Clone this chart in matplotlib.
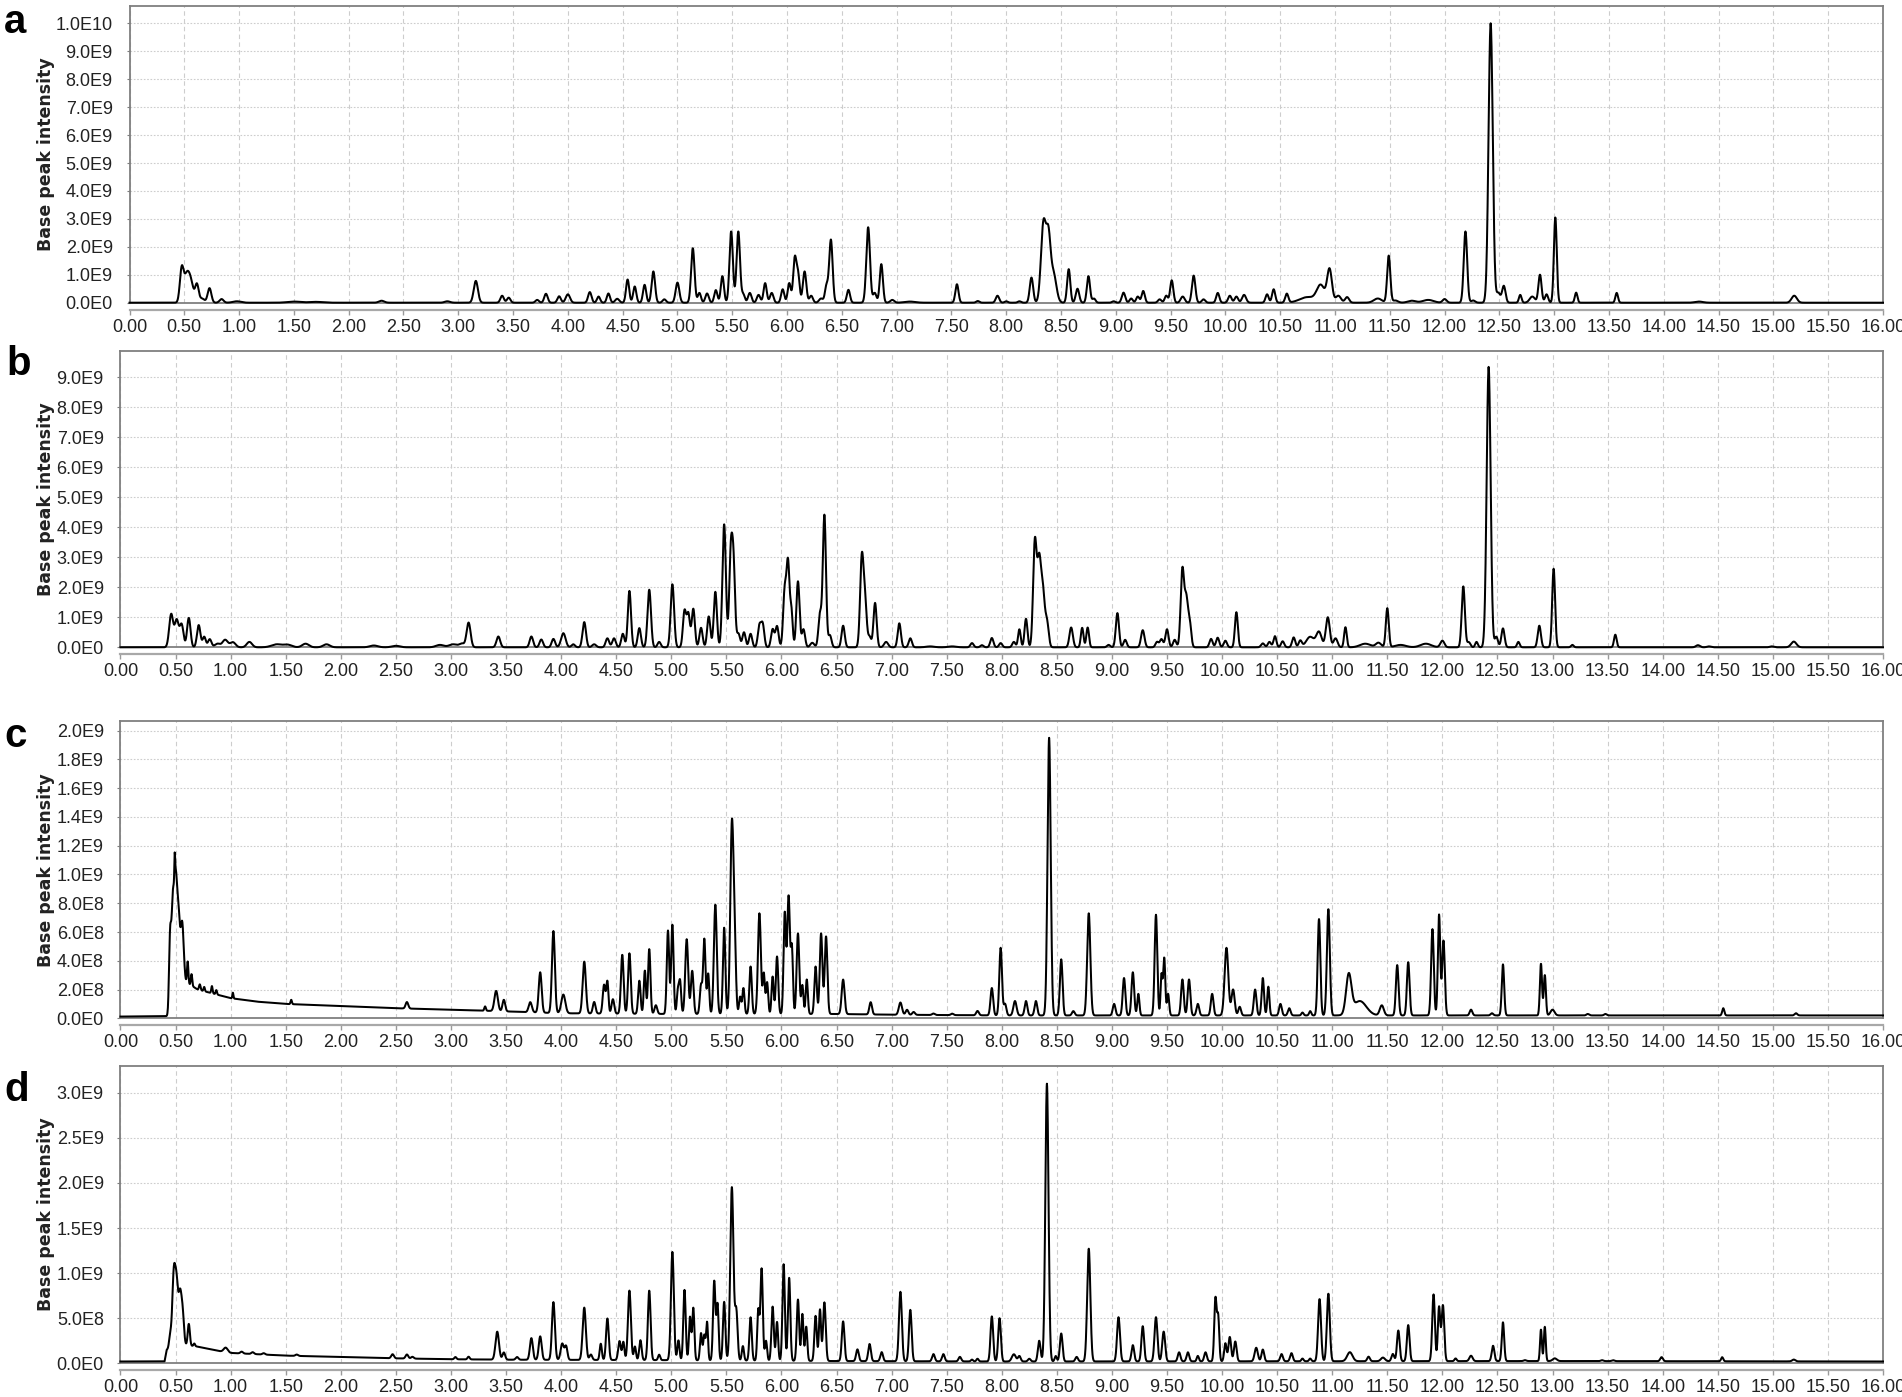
import numpy as np
import matplotlib
matplotlib.use("Agg")
import matplotlib.pyplot as plt
from matplotlib import font_manager
from matplotlib.ticker import FuncFormatter

# ---------------- data (intensities in units of 1e9) ----------------
UNIT = 1e9
RT_GRID = np.linspace(0.0, 16.0, 8001)
SIGMA_SCALE = 1.2
x_ticks = [i * 0.5 for i in range(33)]

# panel a
a_rt = [0.476, 0.52, 0.56, 0.615, 0.66, 0.73, 0.84, 0.98, 1.5, 1.7,
        2.30, 2.9, 3.16, 3.40, 3.46, 3.72, 3.80, 3.92, 4.00, 4.20,
        4.28, 4.37, 4.45, 4.545, 4.61, 4.70, 4.78, 4.88, 5.00, 5.14,
        5.20, 5.27, 5.35, 5.41, 5.49, 5.555, 5.60, 5.66, 5.74, 5.80,
        5.86, 5.96, 6.02, 6.07, 6.10, 6.16, 6.22, 6.31, 6.36, 6.40,
        6.56, 6.74, 6.80, 6.86, 6.96, 7.12, 7.55, 7.74, 7.92, 8.00,
        8.12, 8.23, 8.34, 8.385, 8.43, 8.57, 8.65, 8.75, 8.80, 8.98,
        9.07, 9.14, 9.20, 9.25, 9.40, 9.46, 9.51, 9.61, 9.71, 9.80,
        9.93, 10.04, 10.10, 10.17, 10.38, 10.44, 10.56, 10.75, 10.87, 10.95,
        11.03, 11.11, 11.39, 11.49, 11.55, 11.70, 11.85, 12.00, 12.19, 12.26,
        12.42, 12.49, 12.54, 12.69, 12.80, 12.87, 12.93, 13.01, 13.20, 13.57,
        14.32, 15.19]
a_h = [1.15, 0.9, 0.68, 0.62, 0.15, 0.52, 0.13, 0.05, 0.04, 0.03,
       0.07, 0.05, 0.78, 0.25, 0.18, 0.1, 0.32, 0.23, 0.3, 0.38,
       0.22, 0.33, 0.14, 0.83, 0.58, 0.64, 1.12, 0.12, 0.72, 1.95,
       0.35, 0.33, 0.45, 0.95, 2.55, 2.55, 0.3, 0.35, 0.28, 0.7,
       0.35, 0.48, 0.7, 1.55, 1.0, 1.12, 0.25, 0.15, 0.6, 2.25,
       0.46, 2.7, 0.35, 1.38, 0.1, 0.04, 0.66, 0.06, 0.25, 0.05,
       0.05, 0.9, 2.85, 2.1, 1.05, 1.2, 0.5, 0.95, 0.15, 0.05,
       0.36, 0.15, 0.22, 0.42, 0.12, 0.25, 0.8, 0.22, 0.97, 0.12,
       0.35, 0.25, 0.22, 0.28, 0.3, 0.48, 0.32, 0.2, 0.6, 1.18,
       0.25, 0.2, 0.15, 1.68, 0.08, 0.07, 0.1, 0.13, 2.55, 0.08,
       10.0, 0.35, 0.6, 0.28, 0.22, 1.0, 0.3, 3.05, 0.36, 0.35,
       0.04, 0.25]
a_sigma = [0.014, 0.02, 0.02, 0.013, 0.02, 0.014, 0.015, 0.03, 0.05, 0.05,
           0.02, 0.02, 0.016, 0.013, 0.013, 0.013, 0.013, 0.013, 0.016, 0.013,
           0.012, 0.012, 0.015, 0.012, 0.012, 0.012, 0.013, 0.013, 0.014, 0.013,
           0.012, 0.013, 0.012, 0.012, 0.013, 0.013, 0.012, 0.013, 0.013, 0.012,
           0.013, 0.012, 0.012, 0.012, 0.012, 0.013, 0.013, 0.015, 0.012, 0.013,
           0.012, 0.014, 0.013, 0.012, 0.015, 0.04, 0.012, 0.012, 0.013, 0.012,
           0.012, 0.013, 0.019, 0.016, 0.022, 0.012, 0.013, 0.012, 0.012, 0.012,
           0.013, 0.012, 0.012, 0.012, 0.013, 0.012, 0.012, 0.015, 0.013, 0.013,
           0.012, 0.013, 0.013, 0.015, 0.012, 0.012, 0.012, 0.06, 0.03, 0.018,
           0.02, 0.015, 0.03, 0.012, 0.02, 0.03, 0.04, 0.015, 0.013, 0.015,
           0.016, 0.015, 0.013, 0.01, 0.02, 0.012, 0.012, 0.011, 0.01, 0.01,
           0.03, 0.02]

# panel b
b_rt = [0.46, 0.51, 0.555, 0.62, 0.71, 0.76, 0.81, 0.88, 0.95, 1.02,
        1.17, 1.42, 1.52, 1.68, 1.87, 2.30, 2.50, 2.90, 3.02, 3.10,
        3.16, 3.43, 3.73, 3.82, 3.93, 4.02, 4.11, 4.21, 4.30, 4.42,
        4.48, 4.56, 4.62, 4.71, 4.80, 4.89, 5.01, 5.12, 5.155, 5.20,
        5.27, 5.34, 5.40, 5.48, 5.54, 5.565, 5.61, 5.66, 5.72, 5.80,
        5.83, 5.92, 5.96, 6.03, 6.06, 6.09, 6.15, 6.20, 6.28, 6.35,
        6.39, 6.44, 6.56, 6.73, 6.76, 6.80, 6.85, 6.95, 7.07, 7.17,
        7.35, 7.55, 7.73, 7.82, 7.91, 7.99, 8.11, 8.16, 8.22, 8.30,
        8.34, 8.375, 8.41, 8.63, 8.73, 8.78, 8.97, 9.05, 9.12, 9.28,
        9.41, 9.45, 9.50, 9.57, 9.64, 9.675, 9.705, 9.90, 9.96, 10.03,
        10.13, 10.37, 10.43, 10.48, 10.55, 10.65, 10.71, 10.80, 10.88, 10.96,
        11.03, 11.12, 11.30, 11.42, 11.50, 11.62, 11.85, 12.00, 12.19, 12.24,
        12.31, 12.42, 12.49, 12.55, 12.69, 12.88, 13.01, 13.18, 13.57, 14.32,
        14.42, 14.99, 15.19]
b_h = [1.1, 0.9, 0.75, 0.98, 0.74, 0.35, 0.27, 0.12, 0.25, 0.17,
       0.18, 0.1, 0.08, 0.12, 0.1, 0.06, 0.05, 0.08, 0.1, 0.12,
       0.82, 0.36, 0.36, 0.26, 0.28, 0.47, 0.1, 0.84, 0.1, 0.3,
       0.3, 0.45, 1.88, 0.64, 1.92, 0.18, 2.1, 1.2, 1.1, 1.28,
       0.65, 1.03, 1.85, 4.1, 2.95, 2.6, 0.45, 0.5, 0.45, 0.7,
       0.75, 0.6, 0.7, 1.9, 2.7, 1.2, 2.2, 0.6, 0.15, 1.1,
       4.4, 0.4, 0.72, 3.0, 1.4, 0.35, 1.48, 0.18, 0.8, 0.3,
       0.03, 0.03, 0.14, 0.07, 0.31, 0.14, 0.18, 0.6, 0.95, 3.4,
       2.9, 1.6, 0.85, 0.66, 0.65, 0.66, 0.08, 1.14, 0.25, 0.57,
       0.18, 0.27, 0.6, 0.25, 2.6, 1.5, 0.85, 0.28, 0.32, 0.22,
       1.17, 0.13, 0.18, 0.37, 0.2, 0.33, 0.22, 0.35, 0.5, 1.0,
       0.3, 0.67, 0.12, 0.15, 1.3, 0.08, 0.12, 0.22, 2.03, 0.17,
       0.18, 9.35, 0.35, 0.63, 0.18, 0.72, 2.62, 0.08, 0.42, 0.07,
       0.03, 0.03, 0.19]
b_sigma = [0.015, 0.015, 0.014, 0.013, 0.013, 0.012, 0.013, 0.02, 0.02, 0.02,
           0.02, 0.04, 0.03, 0.025, 0.025, 0.03, 0.03, 0.03, 0.03, 0.02,
           0.015, 0.014, 0.013, 0.013, 0.013, 0.017, 0.013, 0.013, 0.015, 0.013,
           0.013, 0.012, 0.012, 0.012, 0.013, 0.012, 0.013, 0.012, 0.012, 0.012,
           0.012, 0.012, 0.012, 0.013, 0.012, 0.012, 0.012, 0.012, 0.012, 0.012,
           0.012, 0.012, 0.012, 0.012, 0.011, 0.01, 0.012, 0.012, 0.015, 0.012,
           0.012, 0.012, 0.012, 0.013, 0.012, 0.012, 0.012, 0.015, 0.012, 0.012,
           0.03, 0.03, 0.012, 0.012, 0.012, 0.012, 0.012, 0.01, 0.011, 0.013,
           0.015, 0.013, 0.013, 0.013, 0.01, 0.01, 0.012, 0.012, 0.012, 0.013,
           0.012, 0.012, 0.012, 0.012, 0.013, 0.012, 0.012, 0.012, 0.012, 0.012,
           0.011, 0.013, 0.012, 0.011, 0.012, 0.012, 0.012, 0.03, 0.02, 0.015,
           0.015, 0.01, 0.04, 0.02, 0.011, 0.04, 0.04, 0.015, 0.012, 0.012,
           0.01, 0.015, 0.012, 0.012, 0.01, 0.012, 0.011, 0.01, 0.01, 0.015,
           0.015, 0.015, 0.02]

# panel c (peaks on top of a baseline)
c_rt = [0.45, 0.475, 0.492, 0.50, 0.525, 0.56, 0.61, 0.645, 0.72, 0.76,
        0.83, 0.87, 1.02, 1.55, 2.60, 3.31, 3.41, 3.48, 3.72, 3.81,
        3.93, 4.02, 4.21, 4.30, 4.39, 4.42, 4.47, 4.555, 4.62, 4.71,
        4.76, 4.80, 4.86, 4.97, 5.01, 5.06, 5.08, 5.14, 5.19, 5.27,
        5.30, 5.335, 5.40, 5.48, 5.55, 5.575, 5.625, 5.655, 5.72, 5.80,
        5.84, 5.87, 5.92, 5.96, 6.03, 6.065, 6.095, 6.15, 6.19, 6.23,
        6.31, 6.36, 6.405, 6.56, 6.81, 7.08, 7.14, 7.20, 7.38, 7.55,
        7.78, 7.91, 7.99, 8.03, 8.12, 8.22, 8.31, 8.43, 8.54, 8.65,
        8.79, 9.02, 9.11, 9.19, 9.24, 9.40, 9.45, 9.475, 9.51, 9.64,
        9.70, 9.78, 9.91, 10.04, 10.10, 10.16, 10.30, 10.37, 10.42, 10.53,
        10.61, 10.73, 10.80, 10.88, 10.965, 11.15, 11.25, 11.45, 11.59, 11.69,
        11.91, 11.97, 12.01, 12.26, 12.45, 12.55, 12.895, 12.93, 13.00, 13.32,
        13.48, 14.55, 15.21]
c_h = [0.5, 0.7, 0.18, 0.7, 0.55, 0.42, 0.15, 0.08, 0.04, 0.03,
       0.05, 0.03, 0.04, 0.03, 0.045, 0.03, 0.14, 0.08, 0.07, 0.28,
       0.57, 0.13, 0.36, 0.08, 0.2, 0.22, 0.1, 0.41, 0.42, 0.23,
       0.3, 0.45, 0.06, 0.58, 0.62, 0.16, 0.22, 0.52, 0.3, 0.2,
       0.52, 0.28, 0.76, 0.6, 1.3, 0.45, 0.12, 0.18, 0.33, 0.7,
       0.28, 0.22, 0.26, 0.4, 0.7, 0.82, 0.45, 0.56, 0.2, 0.24,
       0.33, 0.56, 0.54, 0.24, 0.085, 0.085, 0.035, 0.02, 0.01, 0.01,
       0.03, 0.19, 0.47, 0.08, 0.1, 0.1, 0.1, 1.93, 0.39, 0.03,
       0.71, 0.08, 0.26, 0.3, 0.15, 0.7, 0.28, 0.4, 0.15, 0.25,
       0.25, 0.08, 0.15, 0.47, 0.18, 0.06, 0.18, 0.26, 0.2, 0.08,
       0.05, 0.02, 0.03, 0.67, 0.74, 0.27, 0.1, 0.07, 0.35, 0.37,
       0.6, 0.7, 0.52, 0.04, 0.015, 0.355, 0.36, 0.28, 0.04, 0.01,
       0.01, 0.05, 0.015]
c_sigma = [0.008, 0.01, 0.003, 0.01, 0.012, 0.011, 0.005, 0.005, 0.006, 0.005,
           0.005, 0.005, 0.004, 0.005, 0.01, 0.006, 0.013, 0.01, 0.012, 0.011,
           0.011, 0.015, 0.012, 0.01, 0.01, 0.008, 0.01, 0.01, 0.01, 0.009,
           0.008, 0.009, 0.01, 0.009, 0.009, 0.008, 0.008, 0.011, 0.01, 0.009,
           0.009, 0.008, 0.011, 0.009, 0.012, 0.01, 0.008, 0.008, 0.009, 0.011,
           0.008, 0.008, 0.008, 0.009, 0.009, 0.01, 0.008, 0.01, 0.008, 0.008,
           0.009, 0.01, 0.01, 0.011, 0.01, 0.012, 0.01, 0.01, 0.01, 0.01,
           0.01, 0.01, 0.01, 0.01, 0.012, 0.01, 0.01, 0.012, 0.01, 0.01,
           0.012, 0.01, 0.01, 0.01, 0.008, 0.01, 0.007, 0.008, 0.008, 0.01,
           0.01, 0.01, 0.01, 0.014, 0.012, 0.01, 0.01, 0.009, 0.008, 0.01,
           0.01, 0.008, 0.008, 0.01, 0.011, 0.02, 0.05, 0.015, 0.01, 0.01,
           0.01, 0.009, 0.01, 0.01, 0.01, 0.009, 0.008, 0.008, 0.015, 0.01,
           0.01, 0.008, 0.01]
c_base_t = [0.0, 0.43, 0.58, 0.70, 0.85, 1.00, 1.25, 1.50, 2.00, 2.50,
            3.00, 3.50, 4.00, 5.00, 6.50, 7.00, 8.00, 16.0]
c_base_v = [0.012, 0.015, 0.26, 0.20, 0.17, 0.14, 0.115, 0.10, 0.085, 0.07,
            0.06, 0.048, 0.035, 0.03, 0.03, 0.025, 0.02, 0.02]

# panel d (peaks on top of a baseline)
d_rt = [0.45, 0.485, 0.51, 0.54, 0.565, 0.62, 0.67, 0.955, 1.10, 1.20, 1.30,
        1.60, 2.47, 2.60, 2.65, 3.04, 3.16, 3.42, 3.48, 3.60, 3.73,
        3.81, 3.93, 4.01, 4.045, 4.21, 4.27, 4.36, 4.42, 4.53, 4.565,
        4.62, 4.67, 4.72, 4.80, 4.89, 5.01, 5.065, 5.12, 5.17, 5.20,
        5.27, 5.30, 5.325, 5.39, 5.42, 5.48, 5.55, 5.59, 5.65, 5.72,
        5.79, 5.82, 5.86, 5.92, 5.96, 6.02, 6.07, 6.15, 6.19, 6.225,
        6.31, 6.35, 6.39, 6.56, 6.69, 6.80, 6.91, 7.08, 7.17, 7.38,
        7.47, 7.62, 7.73, 7.78, 7.91, 7.98, 8.11, 8.16, 8.25, 8.34,
        8.41, 8.49, 8.54, 8.68, 8.79, 9.06, 9.19, 9.28, 9.40, 9.47,
        9.61, 9.69, 9.78, 9.85, 9.94, 9.965, 10.03, 10.07, 10.12, 10.31,
        10.37, 10.54, 10.63, 10.73, 10.80, 10.885, 10.965, 11.16, 11.33, 11.46,
        11.55, 11.60, 11.69, 11.92, 11.97, 12.005, 12.12, 12.26, 12.46, 12.55,
        12.75, 12.895, 12.93, 13.02, 13.45, 13.55, 13.99, 14.54, 15.19]
d_h = [0.12, 0.84, 0.55, 0.58, 0.3, 0.24, 0.03, 0.05, 0.02, 0.02, 0.015,
       0.015, 0.045, 0.045, 0.02, 0.025, 0.03, 0.31, 0.08, 0.03, 0.24,
       0.26, 0.64, 0.18, 0.15, 0.58, 0.06, 0.18, 0.46, 0.21, 0.2,
       0.77, 0.15, 0.22, 0.77, 0.06, 1.2, 0.22, 0.78, 0.48, 0.58,
       0.3, 0.28, 0.42, 0.88, 0.62, 0.65, 1.92, 0.55, 0.16, 0.48,
       0.56, 1.02, 0.22, 0.6, 0.43, 1.07, 0.92, 0.68, 0.52, 0.38,
       0.5, 0.57, 0.65, 0.44, 0.13, 0.19, 0.1, 0.77, 0.57, 0.08,
       0.08, 0.05, 0.02, 0.03, 0.5, 0.48, 0.08, 0.06, 0.03, 0.23,
       3.08, 0.06, 0.31, 0.05, 1.25, 0.49, 0.18, 0.39, 0.49, 0.33,
       0.1, 0.1, 0.06, 0.1, 0.7, 0.48, 0.2, 0.27, 0.22, 0.15,
       0.13, 0.08, 0.09, 0.03, 0.03, 0.69, 0.75, 0.1, 0.05, 0.04,
       0.08, 0.34, 0.4, 0.74, 0.6, 0.62, 0.03, 0.06, 0.17, 0.43,
       0.01, 0.35, 0.38, 0.03, 0.01, 0.01, 0.045, 0.045, 0.02]
d_sigma = [0.008, 0.012, 0.01, 0.012, 0.01, 0.008, 0.006, 0.015, 0.01, 0.01, 0.01,
           0.01, 0.01, 0.01, 0.01, 0.008, 0.008, 0.013, 0.01, 0.01, 0.011,
           0.011, 0.011, 0.012, 0.01, 0.012, 0.01, 0.008, 0.01, 0.01, 0.008,
           0.011, 0.008, 0.009, 0.01, 0.008, 0.011, 0.008, 0.009, 0.008, 0.008,
           0.008, 0.008, 0.007, 0.009, 0.008, 0.009, 0.012, 0.01, 0.008, 0.009,
           0.008, 0.009, 0.008, 0.009, 0.008, 0.009, 0.009, 0.009, 0.008, 0.008,
           0.009, 0.008, 0.01, 0.01, 0.01, 0.01, 0.01, 0.011, 0.01, 0.01,
           0.01, 0.01, 0.008, 0.008, 0.01, 0.01, 0.015, 0.01, 0.01, 0.01,
           0.012, 0.008, 0.01, 0.01, 0.012, 0.011, 0.01, 0.01, 0.011, 0.011,
           0.01, 0.01, 0.008, 0.01, 0.009, 0.008, 0.009, 0.01, 0.01, 0.012,
           0.01, 0.01, 0.01, 0.008, 0.008, 0.011, 0.011, 0.02, 0.01, 0.015,
           0.01, 0.01, 0.01, 0.01, 0.009, 0.01, 0.008, 0.012, 0.01, 0.009,
           0.01, 0.007, 0.007, 0.015, 0.01, 0.01, 0.01, 0.008, 0.012]
d_base_t = [0.0, 0.40, 0.42, 0.46, 0.60, 0.70, 0.80, 0.90, 1.00, 1.25,
            1.50, 2.00, 2.50, 3.00, 3.50, 5.00, 6.50, 8.00, 13.0, 16.0]
d_base_v = [0.02, 0.022, 0.15, 0.18, 0.20, 0.185, 0.16, 0.135, 0.115, 0.10,
            0.085, 0.07, 0.055, 0.045, 0.04, 0.035, 0.025, 0.02, 0.025, 0.02]

panel_letters = ["a", "b", "c", "d"]
y_ticks_a = [i * 1e9 for i in range(11)]
y_ticks_b = [i * 1e9 for i in range(10)]
y_ticks_c = [i * 2e8 for i in range(11)]
y_ticks_d = [i * 5e8 for i in range(7)]
y_max = [1.062e10, 9.89e9, 2.067e9, 3.30e9]
y_label = "Base peak intensity"


def chromatogram(rt, h, sig, base_t=None, base_v=None):
    assert len(rt) == len(h) == len(sig)
    y = np.zeros_like(RT_GRID)
    for t0, h0, s0 in zip(rt, h, sig):
        s = s0 * SIGMA_SCALE
        y += h0 * np.exp(-0.5 * ((RT_GRID - t0) / s) ** 2)
    if base_t is not None:
        assert len(base_t) == len(base_v)
        y += np.interp(RT_GRID, base_t, base_v)
    return y * UNIT


traces = [chromatogram(a_rt, a_h, a_sigma),
          chromatogram(b_rt, b_h, b_sigma),
          chromatogram(c_rt, c_h, c_sigma, c_base_t, c_base_v),
          chromatogram(d_rt, d_h, d_sigma, d_base_t, d_base_v)]
y_ticks = [y_ticks_a, y_ticks_b, y_ticks_c, y_ticks_d]

# ---------------- fonts ----------------
available = {f.name for f in font_manager.fontManager.ttflist}
tick_font = "Liberation Sans Narrow" if "Liberation Sans Narrow" in available else "Liberation Sans"
main_font = "Liberation Sans" if "Liberation Sans" in available else "DejaVu Sans"
plt.rcParams["font.family"] = [main_font, "DejaVu Sans"]


def efmt(v, pos=None):
    if abs(v) < 1:
        return "0.0E0"
    e = int(np.floor(np.log10(abs(v)) + 1e-9))
    m = v / 10 ** e
    return f"{m:.1f}E{e}"


# ---------------- layout (pixels of a 1902 x 1397 canvas) ----------------
W, H = 1902, 1397
boxes = [(129.5, 6.0, 1883, 302.7),
         (120.5, 350.7, 1883, 647.3),
         (120.5, 721.0, 1883, 1018.3),
         (120.5, 1065.7, 1883, 1363.3)]
letter_pos = [(4, 33), (6, 375), (4, 747), (4, 1101)]

fig = plt.figure(figsize=(W / 100, H / 100), dpi=100)
fig.patch.set_facecolor("white")

frame_col = "#7f7f7f"
grid_col = "#cdcdcd"

for i in range(4):
    l, t, r, b = boxes[i]
    ax = fig.add_axes([l / W, 1 - b / H, (r - l) / W, (b - t) / H])
    ax.plot(RT_GRID, traces[i], color="black", lw=1.45, zorder=3, clip_on=False,
            solid_joinstyle="round")
    ax.set_xlim(0, 16)
    ax.set_ylim(0, y_max[i])
    ax.set_xticks(x_ticks)
    ax.set_yticks(y_ticks[i])
    ax.yaxis.set_major_formatter(FuncFormatter(efmt))
    ax.grid(True, axis="x", color=grid_col, linestyle=(0, (4, 3)), lw=0.8)
    ax.grid(True, axis="y", color=grid_col, linestyle=(0, (1.5, 1.5)), lw=0.8)
    ax.set_axisbelow(True)
    ax.tick_params(axis="x", bottom=False, labelbottom=False)
    ax.tick_params(axis="y", direction="out", length=2.5, width=0.8, color=frame_col,
                   pad=9.5, labelsize=13, labelcolor="#222222")
    for lab in ax.get_yticklabels():
        lab.set_fontfamily([tick_font, "DejaVu Sans"])
    for sp in ax.spines.values():
        sp.set_color(frame_col)
        sp.set_linewidth(1.3)

    sec = ax.secondary_xaxis(-0.024)
    sec.set_xticks(x_ticks)
    sec.xaxis.set_major_formatter(FuncFormatter(lambda v, p: f"{v:.2f}"))
    sec.tick_params(axis="x", direction="out", length=3.5, width=1.0, color="#9a9a9a",
                    labelsize=13, pad=3, labelcolor="#222222")
    for lab in sec.get_xticklabels():
        lab.set_fontfamily([tick_font, "DejaVu Sans"])
    sec.spines["bottom"].set_color("#a8a8a8")
    sec.spines["bottom"].set_linewidth(1.6)

    fig.text(46 / W, 1 - ((t + b) / 2) / H, y_label, rotation=90, ha="center",
             va="center", fontsize=12.5, fontweight="bold", color="#222222",
             family=["DejaVu Sans"])
    lx, ly = letter_pos[i]
    fig.text(lx / W, 1 - ly / H, panel_letters[i], ha="left", va="baseline",
             fontsize=29, fontweight="bold", color="black")

fig.savefig("out.png", dpi=100, facecolor="white")
